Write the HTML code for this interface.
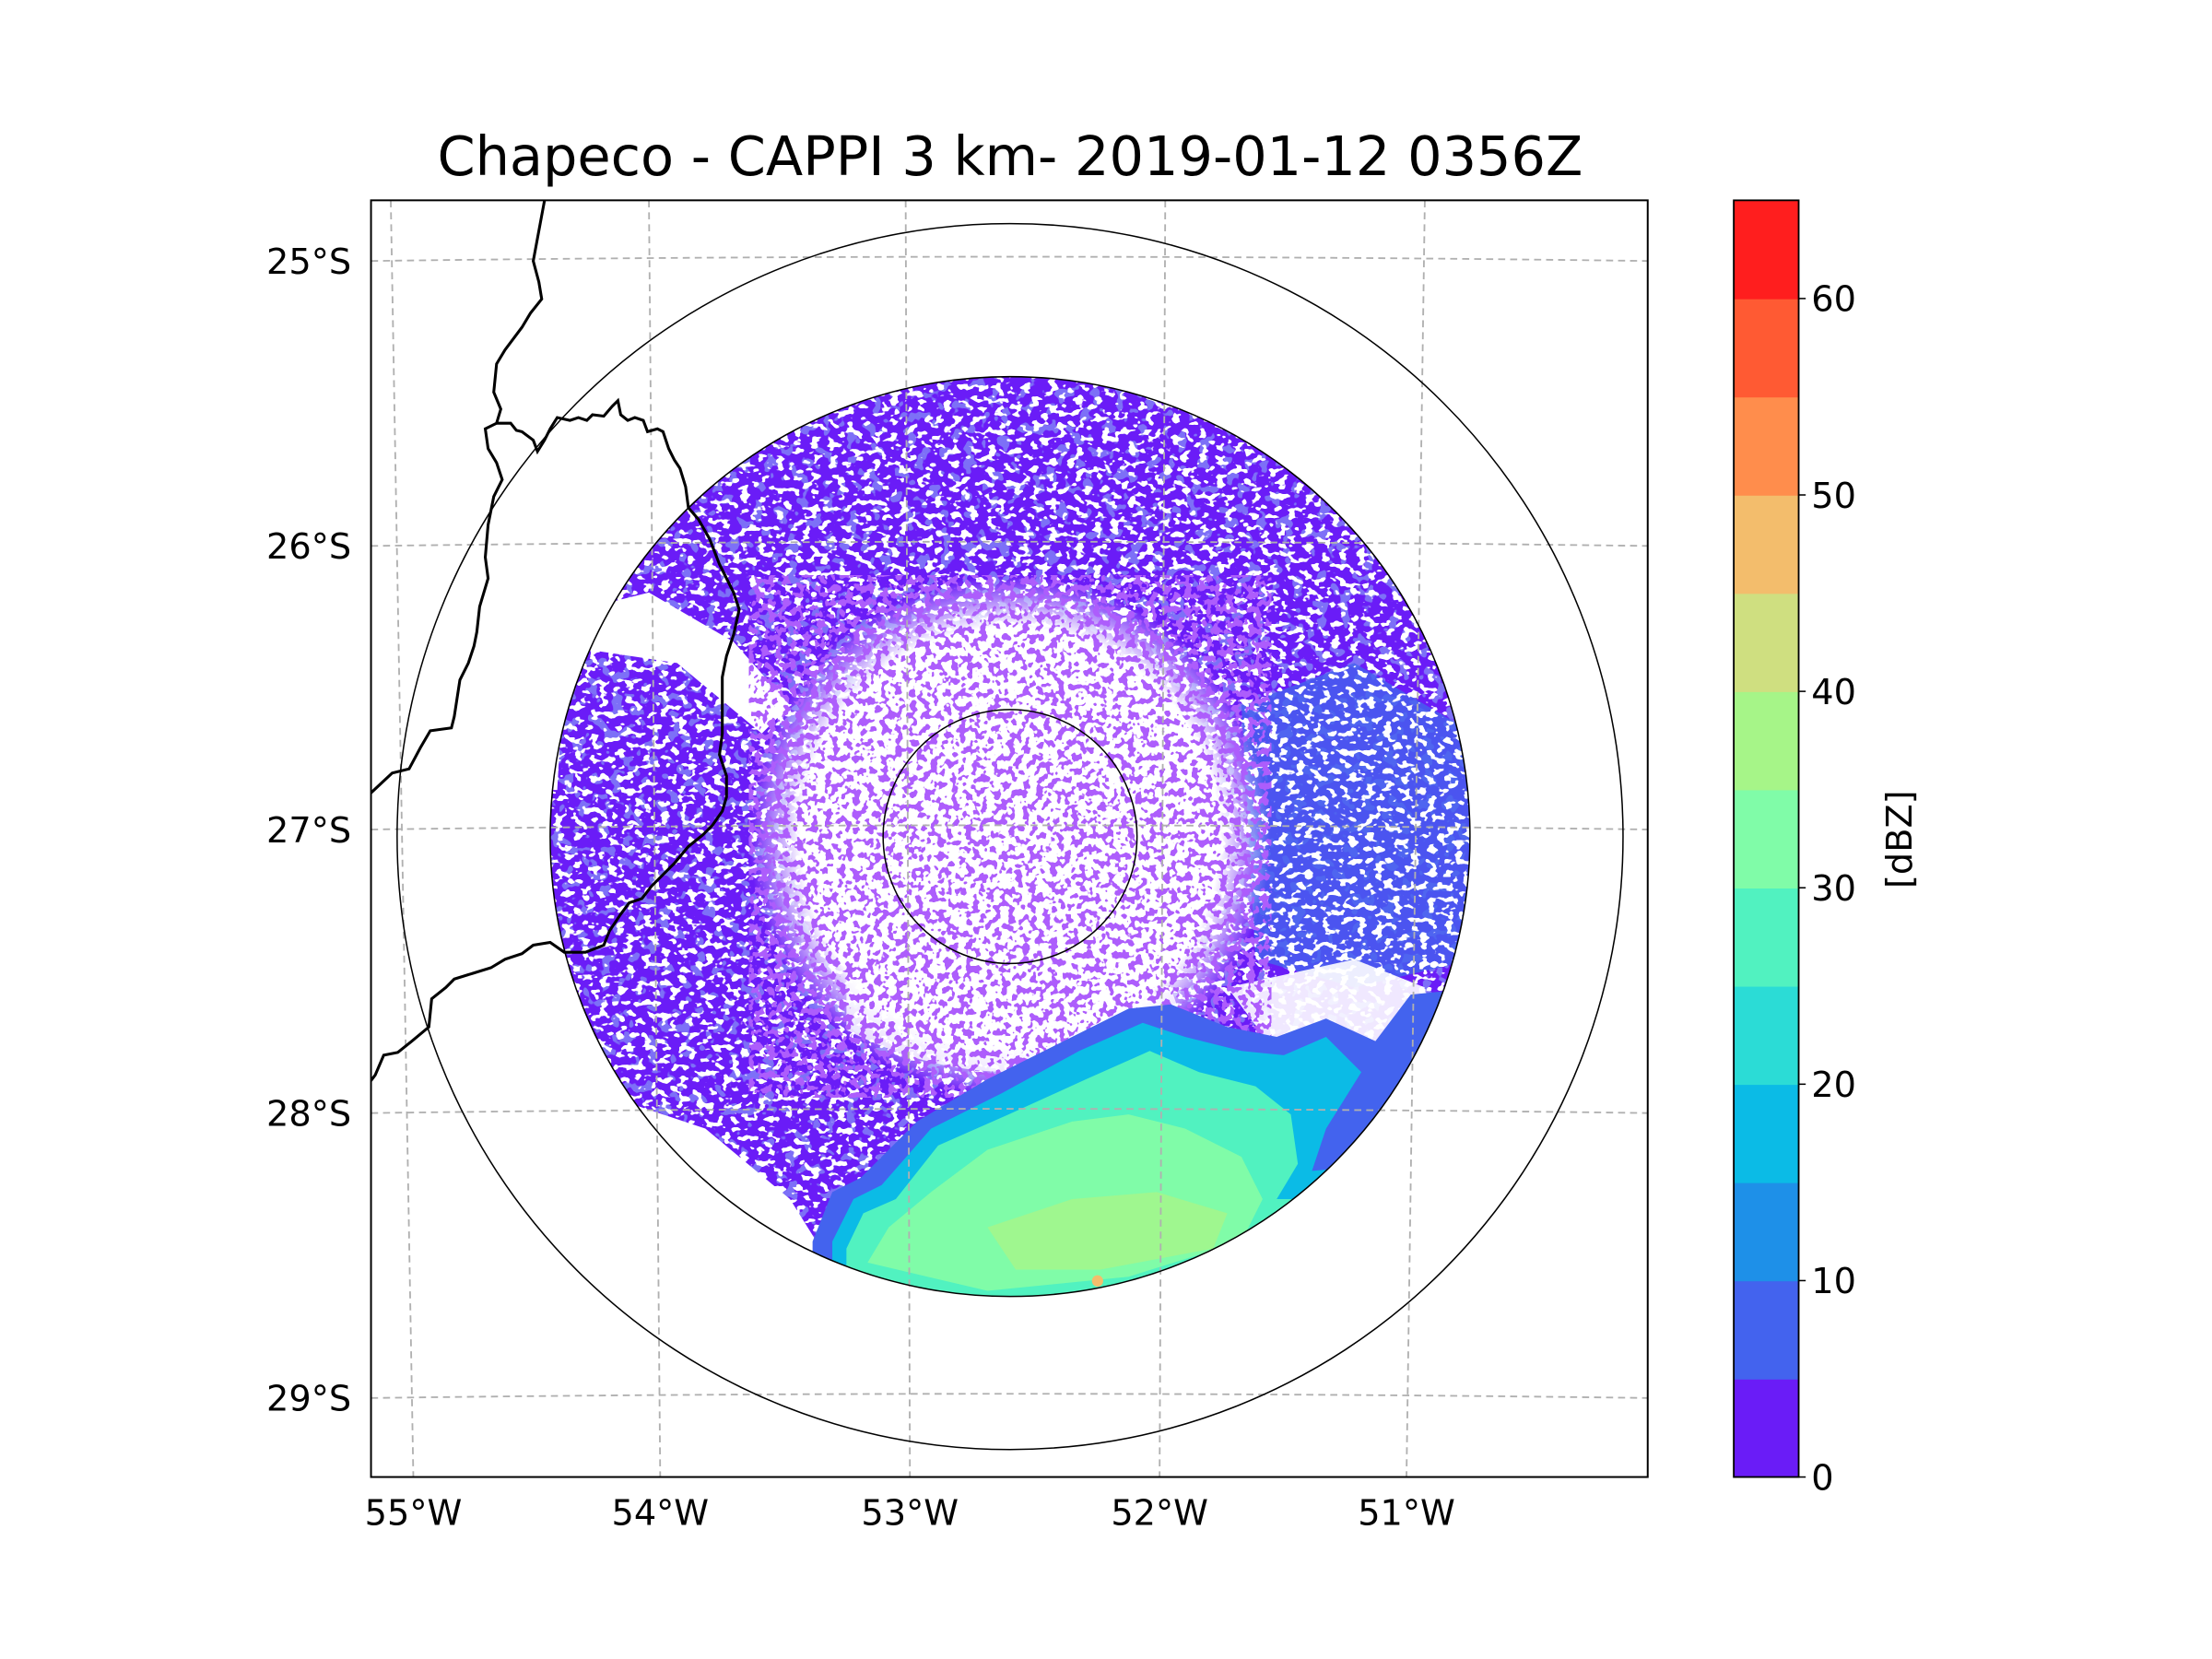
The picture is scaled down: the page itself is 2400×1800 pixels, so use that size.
<!DOCTYPE html>
<html><head><meta charset="utf-8"><style>
html,body{margin:0;padding:0;background:#fff;}
svg{display:block;font-family:"DejaVu Sans","Liberation Sans",sans-serif;}
</style></head><body>
<svg id="chart" width="2400" height="1800" viewBox="0 0 1568 1176" xmlns="http://www.w3.org/2000/svg">
<defs>
  <clipPath id="plotclip"><rect x="263" y="142" width="905" height="905"/></clipPath>
  <clipPath id="diskclip"><circle cx="716" cy="593" r="326"/></clipPath>
  <filter id="speckOut" x="0" y="0" width="100%" height="100%">
    <feTurbulence type="fractalNoise" baseFrequency="0.16 0.22" numOctaves="2" seed="3"/>
    <feColorMatrix type="matrix" values="0 0 0 0 1  0 0 0 0 1  0 0 0 0 1  0 0 0 -25 10.8"/>
  </filter>
  <filter id="speckIn" x="0" y="0" width="100%" height="100%">
    <feTurbulence type="fractalNoise" baseFrequency="0.2" numOctaves="2" seed="7"/>
    <feColorMatrix type="matrix" values="0 0 0 0 0.42  0 0 0 0 0.11  0 0 0 0 0.97  0 0 0 30 -15.9"/>
  </filter>
  <filter id="blueSpeck" x="0" y="0" width="100%" height="100%">
    <feTurbulence type="fractalNoise" baseFrequency="0.12" numOctaves="2" seed="11"/>
    <feColorMatrix type="matrix" values="0 0 0 0 0.26  0 0 0 0 0.39  0 0 0 0 0.93  0 0 0 25 -14.5"/>
  </filter>
  <radialGradient id="innerFade" cx="716" cy="593" r="330" gradientUnits="userSpaceOnUse">
    <stop offset="0" stop-color="#fff" stop-opacity="1"/>
    <stop offset="0.45" stop-color="#fff" stop-opacity="1"/>
    <stop offset="0.56" stop-color="#fff" stop-opacity="0"/>
    <stop offset="1" stop-color="#fff" stop-opacity="0"/>
  </radialGradient>
</defs>

<text x="716" y="124" font-size="38.5" text-anchor="middle" fill="#000">Chapeco - CAPPI 3 km- 2019-01-12 0356Z</text>

<g id="radar" clip-path="url(#diskclip)">
  <rect x="380" y="260" width="680" height="680" fill="#6a1cf7"/>
  <rect x="380" y="260" width="680" height="680" filter="url(#blueSpeck)" opacity="0.6"/>
  <path d="M880,500 L960,470 L1045,520 L1045,680 L960,700 L890,680 Z" fill="#4363ee" opacity="0.8"/>
  <rect x="380" y="260" width="680" height="680" filter="url(#speckOut)"/>
  <path d="M380,440 L460,420 L520,455 L560,500 L540,520 L480,470 L380,455 Z" fill="#fff"/>
  <path d="M380,470 L400,470 L395,560 L380,560 Z" fill="#fff"/>
  <path d="M440,780 L500,800 L560,850 L585,890 L440,900 Z" fill="#fff"/>
  <path d="M870,700 L960,680 L1010,700 L990,760 L940,790 L900,740 Z" fill="#fff" opacity="0.9"/>
  <circle cx="716" cy="593" r="330" fill="url(#innerFade)"/>
  <path d="M600,690 Q716,760 830,700 L840,730 Q716,790 600,730 Z" fill="#fff" opacity="0.8"/>
  <circle cx="716" cy="593" r="185" filter="url(#speckIn)" fill="#fff"/>
  <path d="M576,880 L590,845 L610,835 L650,795 L700,765 L760,735 L800,715 L830,712 L870,728 L905,735 L940,722 L975,738 L1000,705 L1050,700 L1050,950 L576,950 Z" fill="#4363ee"/>
  <path d="M590,880 L605,850 L625,840 L660,800 L710,775 L765,745 L810,725 L840,735 L880,745 L910,748 L940,735 L965,760 L940,800 L930,830 L1050,820 L1050,950 L590,950 Z" fill="#0bbbe6"/>
  <path d="M600,885 L612,860 L635,850 L665,812 L715,790 L770,765 L815,745 L850,760 L890,770 L915,790 L920,825 L905,850 L1000,850 L1000,950 L600,950 Z" fill="#51f2c0"/>
  <path d="M615,895 L630,870 L660,845 L700,815 L760,795 L800,790 L840,800 L880,820 L895,850 L880,880 L800,905 L700,915 Z" fill="#80fca8"/>
  <path d="M700,870 L760,850 L820,845 L870,860 L860,885 L780,900 L720,900 Z" fill="#a6f588" opacity="0.8"/>
  <circle cx="778" cy="908" r="4" fill="#f3bd6c"/>
</g>

<g id="map" clip-path="url(#plotclip)" fill="none">
  <g id="grid" stroke="#b0b0b0" stroke-width="1.2" stroke-dasharray="5,3.5"></g>
  <circle cx="716" cy="593" r="434.5" stroke="#000" stroke-width="1"/>
  <circle cx="716" cy="593" r="326" stroke="#000" stroke-width="1"/>
  <circle cx="716" cy="593" r="90" stroke="#000" stroke-width="1"/>
  <path stroke="#000" stroke-width="2" d="M386,142 L378,185 L382,200 L384,212 L376,222 L370,232 L358,248 L352,258 L350,278 L355,290 L352,300 L344,304 L346,318 L352,328 L356,340 L350,352 L346,372 L344,395 L346,410 L340,430 L338,448 L336,458 L332,470 L326,482 L324,495 L322,508 L320,516 L305,518 L298,530 L290,545 L278,548 L263,562"/>
  <path stroke="#000" stroke-width="2" d="M352,300 L362,300 L366,305 L370,306 L378,312 L381,320 L386,312 L390,304 L395,296 L404,298 L410,296 L416,298 L420,294 L428,295 L434,288 L438,284 L440,294 L445,298 L450,296 L456,298 L459,306 L466,304 L470,306 L474,318 L478,326 L482,332 L486,345 L488,360 L495,368 L503,382 L510,400 L520,420 L524,432 L520,450 L515,465 L512,480 L512,500 L512,520 L510,535 L515,550 L515,565 L512,575 L505,585 L498,592 L488,600 L478,612 L470,620 L462,628 L455,637 L446,640 L440,648 L432,660 L428,670 L415,675 L400,675 L390,668 L378,670 L370,676 L358,680 L348,686 L335,690 L322,694 L316,700 L306,708 L304,728 L292,738 L282,746 L272,748 L266,762 L263,766"/>
</g>
<rect x="263" y="142" width="905" height="905" fill="none" stroke="#000" stroke-width="1.3"/>
<g id="ticks" font-size="25" fill="#000"></g>

<g id="cbar"></g>
<text x="0" y="0" font-size="25" text-anchor="middle" transform="translate(1363,595) rotate(-90) translate(0,0)" dy="-8">[dBZ]</text>

<script>
const lonTicks = ["55°W","54°W","53°W","52°W","51°W"];
const lonTop = [277, 460, 642, 826, 1010];
const lonBottom = [293, 468, 645, 822, 997];
const latTicks = ["25°S","26°S","27°S","28°S","29°S"];
const latRow = [185, 387, 588, 789, 991];
const cbLevels = [0,5,10,15,20,25,30,35,40,45,50,55,60,65];
const cbColors = ["#6a1cf7","#4363ee","#1e90e8","#0bbbe6","#2bdcd6","#51f2c0","#80fca8","#a6f588","#cfdf80","#f3bd6c","#ff8d4c","#ff5a33","#ff1e1e"];
const cbTicks = [0,10,20,30,40,50,60];

const NS = "http://www.w3.org/2000/svg";
function mk(tag, attrs, parent){ const e=document.createElementNS(NS,tag); for(const k in attrs) e.setAttribute(k,attrs[k]); parent.appendChild(e); return e; }
const grid=document.getElementById('grid'), ticks=document.getElementById('ticks'), cbar=document.getElementById('cbar');
const plotTop=142, plotBot=1047, plotL=263, plotR=1168;
lonTicks.forEach((t,i)=>{
  const p=mk('path',{d:`M${lonTop[i]},${plotTop} L${lonBottom[i]},${plotBot}`},grid);
  
  
  const tx=mk('text',{x:lonBottom[i],y:1081,'text-anchor':'middle'},ticks); tx.textContent=t;
  
  
});
latTicks.forEach((t,i)=>{
  const y=latRow[i];
  const p=mk('path',{d:`M${plotL},${y} Q716,${y-6} ${plotR},${y}`},grid);
  
  
  const tx=mk('text',{x:249,y:y+9,'text-anchor':'end'},ticks); tx.textContent=t;
  
  
});
const cbX=1229, cbW=46, cbTop=142, cbBot=1047;
const vmin=cbLevels[0], vmax=cbLevels[cbLevels.length-1];
const yOf=v=>cbBot-(v-vmin)/(vmax-vmin)*(cbBot-cbTop);
cbColors.forEach((c,i)=>{
  const y1=yOf(cbLevels[i+1]), y0=yOf(cbLevels[i]);
  const r=mk('rect',{x:cbX,y:y1,width:cbW,height:y0-y1+0.5,fill:c},cbar);
  
  
});
mk('rect',{x:cbX,y:cbTop,width:cbW,height:cbBot-cbTop,fill:'none',stroke:'#000','stroke-width':1.2},cbar);
cbTicks.forEach(v=>{
  const y=yOf(v);
  mk('line',{x1:cbX+cbW,x2:cbX+cbW+5,y1:y,y2:y,stroke:'#000','stroke-width':1},cbar);
  const tx=mk('text',{x:cbX+cbW+9,y:y+9,'font-size':25},cbar); tx.textContent=v;
  
  
});
</script>
</svg>
</body></html>
